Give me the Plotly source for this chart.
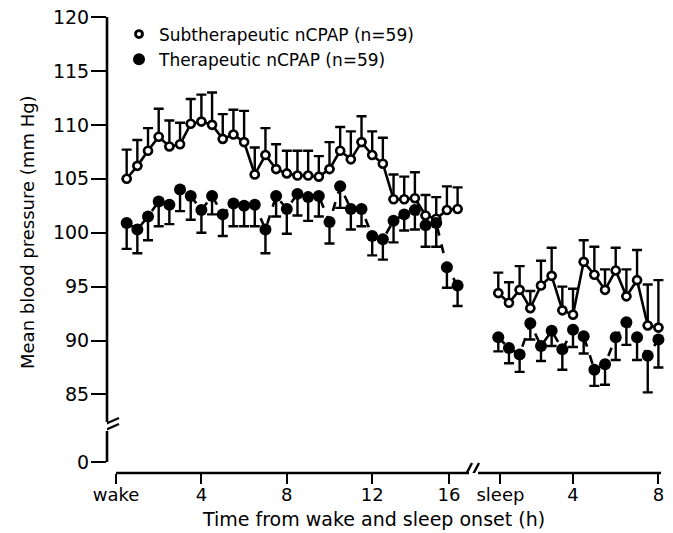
import plotly.graph_objects as go

# ---------------- data ----------------
WAKE_T = [0.5, 1.0, 1.5, 2.0, 2.5, 3.0, 3.5, 4.0, 4.5, 5.0, 5.5, 6.0, 6.5, 7.0, 7.5, 8.0,
          8.5, 9.0, 9.5, 10.0, 10.5, 11.0, 11.5, 12.0, 12.5, 13.0, 13.5, 14.0, 14.5, 15.0, 15.5, 16.0]
SLEEP_T = [0.5, 1.0, 1.5, 2.0, 2.5, 3.0, 3.5, 4.0, 4.5, 5.0, 5.5, 6.0, 6.5, 7.0, 7.5, 8.0]

SUB_WAKE = [105.0, 106.2, 107.6, 108.9, 108.0, 108.2, 110.1, 110.3, 110.0, 108.7, 109.1, 108.4,
            105.4, 107.2, 105.9, 105.5, 105.3, 105.3, 105.2, 105.9, 107.6, 106.8, 108.4, 107.2,
            106.4, 103.1, 103.1, 103.2, 101.6, 101.3, 102.1, 102.2]
SUB_WAKE_UP = [107.7, 108.6, 109.7, 111.5, 110.4, 110.2, 112.4, 112.8, 113.0, 111.0, 111.4, 111.3,
               107.9, 109.7, 108.2, 107.6, 107.6, 107.6, 107.1, 108.4, 109.8, 109.4, 110.8, 109.4,
               108.8, 105.4, 105.2, 105.6, 103.5, 103.3, 104.3, 104.2]
THER_WAKE = [100.9, 100.3, 101.5, 102.9, 102.6, 104.0, 103.4, 102.1, 103.4, 101.7, 102.7, 102.5,
             102.6, 100.3, 103.4, 102.2, 103.6, 103.3, 103.4, 101.0, 104.3, 102.2, 102.2, 99.7,
             99.4, 101.1, 101.7, 102.1, 100.7, 100.9, 96.8, 95.1]
THER_WAKE_LO = [98.5, 98.1, 99.3, 100.6, 100.8, 102.0, 101.2, 100.0, 101.7, 99.7, 100.6, 100.6,
                100.6, 98.1, 101.5, 99.9, 101.6, 101.1, 101.5, 99.0, 102.3, 100.3, 100.6, 97.9,
                97.5, 99.1, 100.2, 100.3, 98.7, 98.7, 94.9, 93.2]

SUB_SLEEP = [94.4, 93.5, 94.7, 93.0, 95.1, 96.0, 92.8, 92.4, 97.3, 96.1, 94.7, 96.5, 94.1, 95.6, 91.4, 91.2]
SUB_SLEEP_UP = [96.3, 95.4, 96.9, 94.6, 97.4, 98.6, 95.0, 94.8, 99.3, 98.7, 96.6, 98.6, 96.6, 98.4, 95.2, 95.6]
THER_SLEEP = [90.3, 89.3, 88.7, 91.6, 89.5, 90.9, 89.2, 91.0, 90.4, 87.3, 87.8, 90.3, 91.7, 90.3, 88.6, 90.1]
THER_SLEEP_LO = [89.0, 87.9, 87.1, 90.1, 88.1, 89.5, 87.3, 89.4, 88.8, 85.8, 85.9, 88.2, 89.6, 88.2, 85.2, 87.5]

WAKE_TICK_TEXT = ["wake", "4", "8", "12", "16"]
WAKE_TICK_POS = [0, 4, 8, 12, 15.6]
SLEEP_TICK_TEXT = ["sleep", "4", "8"]
SLEEP_TICK_POS = [0.6, 4, 8]
Y_TICK_VALS = [85, 90, 95, 100, 105, 110, 115, 120]
Y_ZERO_LABEL = "0"

SUB_NAME = "Subtherapeutic nCPAP (n=59)"
THER_NAME = "Therapeutic nCPAP (n=59)"

# ---------------- layout constants ----------------
W, H = 673, 533
ML, MR, MT, MB = 107, 5, 10, 60
X_RANGE = [-0.4215, 25.855]
Y_RANGE = [77.72, 120.65]
SLEEP_OFFSET = 17.406      # where the sleep segment starts on the shared x axis
Y_ZERO_POS = 78.74         # axis position where the "0" label sits (below the break)
FONT = "DejaVu Sans"

pw = W - ML - MR
ph = H - MT - MB


def px_x(px):
    return X_RANGE[0] + (px - ML) / pw * (X_RANGE[1] - X_RANGE[0])


def px_y(py):
    return Y_RANGE[1] - (py - MT) / ph * (Y_RANGE[1] - Y_RANGE[0])


sleep_x = [SLEEP_OFFSET + t for t in SLEEP_T]


def up_err(vals, tops):
    return [t - v for v, t in zip(vals, tops)]


def down_err(vals, lows):
    return [v - l for v, l in zip(vals, lows)]


fig = go.Figure()

open_marker = dict(symbol="circle", size=8, color="white", line=dict(color="black", width=2.6))
fill_marker = dict(symbol="circle", size=12, color="black", line=dict(color="black", width=0))

for xs, ys, tops in [(WAKE_T, SUB_WAKE, SUB_WAKE_UP), (sleep_x, SUB_SLEEP, SUB_SLEEP_UP)]:
    fig.add_trace(go.Scatter(
        x=xs, y=ys, mode="lines+markers", showlegend=False,
        line=dict(color="black", width=2.6),
        marker=open_marker,
        error_y=dict(type="data", symmetric=False, array=up_err(ys, tops),
                     arrayminus=[0] * len(ys), color="black", thickness=2.4, width=5),
        cliponaxis=False,
    ))

for xs, ys, lows in [(WAKE_T, THER_WAKE, THER_WAKE_LO), (sleep_x, THER_SLEEP, THER_SLEEP_LO)]:
    fig.add_trace(go.Scatter(
        x=xs, y=ys, mode="lines+markers", showlegend=False,
        line=dict(color="black", width=2.6, dash="dash"),
        marker=fill_marker,
        error_y=dict(type="data", symmetric=False, array=[0] * len(ys),
                     arrayminus=down_err(ys, lows), color="black", thickness=2.4, width=5),
        cliponaxis=False,
    ))

# legend-only entries (symbols only, as in the reference)
fig.add_trace(go.Scatter(x=[None], y=[None], mode="markers", name=SUB_NAME,
                         marker=dict(symbol="circle", size=7, color="white",
                                     line=dict(color="black", width=2.8))))
fig.add_trace(go.Scatter(x=[None], y=[None], mode="markers", name=THER_NAME,
                         marker=dict(symbol="circle", size=12, color="black")))

# ---------------- axes decorations ----------------
shapes = []
LW = 2.6
# x axis line, broken
shapes.append(dict(type="line", xref="x", yref="paper", x0=px_x(116), x1=px_x(469), y0=0, y1=0,
                   line=dict(color="black", width=LW)))
shapes.append(dict(type="line", xref="x", yref="paper", x0=px_x(478), x1=px_x(661), y0=0, y1=0,
                   line=dict(color="black", width=LW)))
# x break marks
for dx in (0, 7):
    shapes.append(dict(type="line", xref="x", yref="y",
                       x0=px_x(462 + dx), y0=px_y(482), x1=px_x(472 + dx), y1=px_y(463),
                       line=dict(color="black", width=2.4)))
# y axis line, broken
shapes.append(dict(type="line", xref="paper", yref="y", x0=0, x1=0, y0=120, y1=px_y(422),
                   line=dict(color="black", width=LW)))
shapes.append(dict(type="line", xref="paper", yref="y", x0=0, x1=0, y0=px_y(431), y1=Y_ZERO_POS,
                   line=dict(color="black", width=LW)))
# y break marks
for dy in (0, 6):
    shapes.append(dict(type="line", xref="x", yref="y",
                       x0=px_x(96), y0=px_y(428 + dy), x1=px_x(119), y1=px_y(418 + dy),
                       line=dict(color="black", width=2.4)))

tickvals_x = WAKE_TICK_POS + [SLEEP_OFFSET + p for p in SLEEP_TICK_POS]
ticktext_x = WAKE_TICK_TEXT + SLEEP_TICK_TEXT

fig.update_layout(
    width=W, height=H,
    margin=dict(l=ML, r=MR, t=MT, b=MB),
    paper_bgcolor="white", plot_bgcolor="white",
    font=dict(family=FONT, color="black", size=18),
    shapes=shapes,
    showlegend=True,
    legend=dict(x=(119 - ML) / pw, y=1 - (16.5 - MT) / ph, xanchor="left", yanchor="top",
                bgcolor="rgba(0,0,0,0)", font=dict(size=17, family=FONT),
                itemwidth=30, tracegroupgap=0),
    xaxis=dict(range=X_RANGE, showgrid=False, zeroline=False, showline=False,
               tickmode="array", tickvals=tickvals_x, ticktext=ticktext_x,
               ticks="outside", ticklen=10, tickwidth=2.4, tickcolor="black",
               ticklabelstandoff=-5,
               tickfont=dict(size=18, family=FONT)),
    yaxis=dict(range=Y_RANGE, showgrid=False, zeroline=False, showline=False,
               tickmode="array", tickvals=[Y_ZERO_POS] + Y_TICK_VALS,
               ticktext=[Y_ZERO_LABEL] + [str(v) for v in Y_TICK_VALS],
               ticks="outside", ticklen=15, tickwidth=2.4, tickcolor="black",
               ticklabelstandoff=-2,
               tickfont=dict(size=19, family=FONT)),
    annotations=[
        dict(text="Mean blood pressure (mm Hg)", xref="paper", yref="paper",
             x=(28 - ML) / pw, y=1 - (232 - MT) / ph, textangle=-90,
             showarrow=False, xanchor="center", yanchor="middle",
             font=dict(size=18, family=FONT)),
        dict(text="Time from wake and sleep onset (h)", xref="paper", yref="paper",
             x=(373 - ML) / pw, y=-(519 - (H - MB)) / ph, showarrow=False,
             xanchor="center", yanchor="middle", font=dict(size=19, family=FONT)),
    ],
)

fig.write_html("out.html")
